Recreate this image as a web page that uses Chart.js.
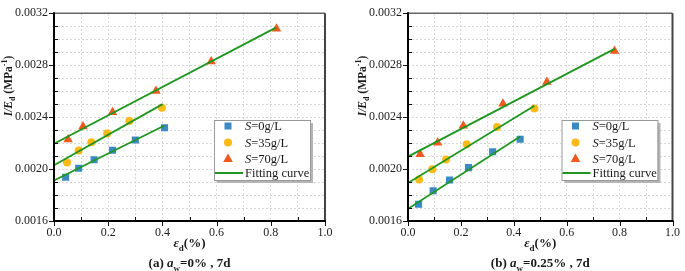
<!DOCTYPE html>
<html>
<head>
<meta charset="utf-8">
<script src="https://cdn.jsdelivr.net/npm/chart.js@4.4.1/dist/chart.umd.min.js"></script>
<style>
  html, body { margin: 0; padding: 0; background: #fff; }
  #wrap { position: relative; width: 685px; height: 271px; overflow: hidden; }
  #wrap canvas { position: absolute; top: 0; }
</style>
</head>
<body>
<div id="wrap">
  <canvas id="chartA" width="340" height="271" style="left:0"></canvas>
  <canvas id="chartB" width="331" height="271" style="left:354px"></canvas>
</div>
<script>
// panel (a) aw=0%, 7d  -- strain (%) and 1/Ed (MPa^-1)
const epsA0 = [0.043, 0.091, 0.148, 0.216, 0.300, 0.408];
const invA0 = [0.001937, 0.002006, 0.002071, 0.002145, 0.002224, 0.002318];
const epsA35 = [0.048, 0.091, 0.138, 0.196, 0.278, 0.398];
const invA35 = [0.002051, 0.002142, 0.002207, 0.002274, 0.002370, 0.002472];
const epsA70 = [0.052, 0.107, 0.216, 0.376, 0.580, 0.821];
const invA70 = [0.002227, 0.002328, 0.002437, 0.002601, 0.002828, 0.003081];
// fitting lines (start / end)
const fitA0x = [0, 0.408], fitA0y = [0.001912, 0.002335];
const fitA35x = [0, 0.401], fitA35y = [0.002029, 0.002500];
const fitA70x = [0, 0.819], fitA70y = [0.002195, 0.003089];

// panel (b) aw=0.25%, 7d
const epsB0 = [0.040, 0.095, 0.157, 0.229, 0.320, 0.424];
const invB0 = [0.001729, 0.001833, 0.001915, 0.002011, 0.002133, 0.002229];
const epsB35 = [0.042, 0.092, 0.144, 0.222, 0.337, 0.478];
const invB35 = [0.001920, 0.001999, 0.002073, 0.002190, 0.002323, 0.002467];
const epsB70 = [0.046, 0.112, 0.209, 0.359, 0.525, 0.781];
const invB70 = [0.002113, 0.002202, 0.002333, 0.002502, 0.002670, 0.002908];
const fitB0x = [0, 0.424], fitB0y = [0.001694, 0.002251];
const fitB35x = [0, 0.478], fitB35y = [0.001892, 0.002487];
const fitB70x = [0, 0.781], fitB70y = [0.002096, 0.002925];

const seriesNames = ["=0g/L", "=35g/L", "=70g/L"];
const fitName = "Fitting curve";
const xMin = 0, xMax = 1, xStep = 0.1;
const yMin = 0.0016, yMax = 0.0032, yStep = 0.0001;

const BLUE = "#3b8ac4", YELLOW = "#fdb914", ORANGE = "#f15a1f", GREEN = "#1f961f";
const FAM = '"Liberation Serif", "Times New Roman", serif';

function pts(xs, ys) {
  return xs.map((x, i) => ({ x: x, y: ys[i] }));
}

function scatterSet(xs, ys, color, style, r) {
  return {
    data: pts(xs, ys),
    showLine: false,
    pointStyle: style,
    pointRadius: r,
    pointBackgroundColor: color,
    pointBorderColor: color,
    pointBorderWidth: 0,
    order: 2
  };
}

function fitSet(xs, ys) {
  return {
    data: pts(xs, ys),
    showLine: true,
    borderColor: GREEN,
    borderWidth: 1.8,
    pointRadius: 0,
    fill: false,
    order: 0
  };
}

// texte avec indices / exposants
function drawRich(ctx, parts, x, y, size, weight, align) {
  const items = parts.map(p => {
    const s = (p.sub || p.sup) ? Math.round(size * 0.7) : size;
    const font = (p.it ? "italic " : "") + weight + " " + s + "px " + FAM;
    ctx.font = font;
    return { t: p.t, font: font, w: ctx.measureText(p.t).width,
             dy: p.sub ? size * 0.28 : (p.sup ? -size * 0.4 : 0) };
  });
  const total = items.reduce((a, b) => a + b.w, 0);
  let cx = align === "center" ? x - total / 2 : x;
  ctx.textAlign = "left";
  ctx.textBaseline = "alphabetic";
  items.forEach(it => {
    ctx.font = it.font;
    ctx.fillText(it.t, cx, y + it.dy);
    cx += it.w;
  });
}

const decor = {
  id: "decor",
  afterDraw(chart, args, opts) {
    const ctx = chart.ctx;
    const a = chart.chartArea;
    const xs = chart.scales.x, ys = chart.scales.y;
    ctx.save();
    ctx.strokeStyle = "#111";
    ctx.lineWidth = 1;

    // tick marks
    ys.ticks.forEach((t, i) => {
      const py = Math.round(ys.getPixelForValue(t.value)) + 0.5;
      const major = Math.round(t.value * 10000) % 4 === 0;
      ctx.beginPath();
      if (major) { ctx.moveTo(a.left - 5, py); ctx.lineTo(a.left, py); }
      else { ctx.moveTo(a.left, py); ctx.lineTo(a.left + 4, py); }
      ctx.stroke();
    });
    xs.ticks.forEach(t => {
      const px = Math.round(xs.getPixelForValue(t.value)) + 0.5;
      const major = Math.round(t.value * 10) % 2 === 0;
      ctx.beginPath();
      if (major) { ctx.moveTo(px, a.bottom); ctx.lineTo(px, a.bottom + 5); }
      else { ctx.moveTo(px, a.bottom); ctx.lineTo(px, a.bottom - 4); }
      ctx.stroke();
    });

    // frame
    ctx.strokeStyle = "#666";
    ctx.lineWidth = 1.5;
    ctx.beginPath();
    ctx.moveTo(a.left, a.top); ctx.lineTo(a.right, a.top);
    ctx.stroke();
    ctx.strokeStyle = "#444";
    ctx.lineWidth = 2;
    ctx.beginPath();
    ctx.moveTo(a.right, a.top); ctx.lineTo(a.right, a.bottom);
    ctx.stroke();
    ctx.strokeStyle = "#000";
    ctx.lineWidth = 2;
    ctx.beginPath();
    ctx.moveTo(a.left, a.top - 1); ctx.lineTo(a.left, a.bottom); ctx.lineTo(a.right + 1, a.bottom);
    ctx.stroke();

    // legend
    const bw = 96, bh = 60;
    const bx = a.right - 15 - bw, by = 120;
    ctx.fillStyle = "#b5b5b5";
    ctx.fillRect(bx + 3, by + 3, bw, bh);
    ctx.fillStyle = "#fff";
    ctx.fillRect(bx, by, bw, bh);
    ctx.strokeStyle = "#999";
    ctx.lineWidth = 1;
    ctx.strokeRect(bx + 0.5, by + 0.5, bw, bh);

    const rows = [by + 6, by + 22.5, by + 38.5, by + 53];
    const mx = bx + 14;
    ctx.fillStyle = BLUE;
    ctx.fillRect(mx - 3.5, rows[0] - 3.5, 7, 7);
    ctx.fillStyle = YELLOW;
    ctx.beginPath(); ctx.arc(mx, rows[1], 4, 0, Math.PI * 2); ctx.fill();
    ctx.fillStyle = ORANGE;
    ctx.beginPath();
    ctx.moveTo(mx, rows[2] - 5); ctx.lineTo(mx + 4.8, rows[2] + 3.5); ctx.lineTo(mx - 4.8, rows[2] + 3.5);
    ctx.closePath(); ctx.fill();
    ctx.strokeStyle = GREEN;
    ctx.lineWidth = 2;
    ctx.beginPath(); ctx.moveTo(bx + 1, rows[3]); ctx.lineTo(bx + 29, rows[3]); ctx.stroke();

    ctx.fillStyle = "#1a1a1a";
    seriesNames.forEach((n, i) => {
      drawRich(ctx, [{ t: "S", it: true }, { t: n }], bx + 31, rows[i] + 4, 12.5, "normal", "left");
    });
    drawRich(ctx, [{ t: fitName }], bx + 31, rows[3] + 4, 12.5, "normal", "left");

    // axis titles
    const cxm = (a.left + a.right) / 2;
    drawRich(ctx, [{ t: "\u03b5", it: true }, { t: "d", sub: true }, { t: "(%)" }], cxm, 247, 13, "bold", "center");
    drawRich(ctx, opts.caption, cxm, 267, 13, "bold", "center");

    ctx.save();
    ctx.translate(12, 86);
    ctx.rotate(-Math.PI / 2);
    drawRich(ctx, [{ t: "I/E", it: true }, { t: "d", sub: true }, { t: " (MPa" }, { t: "-1", sup: true }, { t: ")" }],
             0, 0, 11.5, "bold", "center");
    ctx.restore();

    ctx.restore();
  }
};

function makePanel(id, datasets, caption, padRight) {
  return new Chart(document.getElementById(id), {
    type: "scatter",
    data: { datasets: datasets },
    options: {
      responsive: false,
      animation: false,
      events: [],
      layout: { autoPadding: false, padding: { left: 0, right: padRight, top: 6, bottom: 0 } },
      plugins: {
        legend: { display: false },
        tooltip: { enabled: false },
        decor: { caption: caption }
      },
      scales: {
        x: {
          type: "linear", min: xMin, max: xMax,
          afterFit(s) { s.height = 50; },
          ticks: {
            stepSize: xStep, autoSkip: false, maxRotation: 0, padding: 5,
            color: "#222", font: { family: FAM, size: 12 },
            callback: v => (Math.round(v * 10) % 2 === 0 ? v.toFixed(1) : "")
          },
          grid: { color: "#d6d6d6", lineWidth: 1, drawTicks: false },
          border: { display: false, dash: [2, 2] }
        },
        y: {
          type: "linear", min: yMin, max: yMax,
          afterFit(s) { s.width = 54; },
          ticks: {
            stepSize: yStep, autoSkip: false, padding: 6,
            color: "#222", font: { family: FAM, size: 12 },
            callback: v => (Math.round(v * 10000) % 4 === 0 ? v.toFixed(4) : "")
          },
          grid: { color: "#d6d6d6", lineWidth: 1, drawTicks: false },
          border: { display: false, dash: [2, 2] }
        }
      }
    },
    plugins: [decor]
  });
}

makePanel("chartA", [
  fitSet(fitA0x, fitA0y), fitSet(fitA35x, fitA35y), fitSet(fitA70x, fitA70y),
  scatterSet(epsA0, invA0, BLUE, "rect", 5),
  scatterSet(epsA35, invA35, YELLOW, "circle", 4),
  scatterSet(epsA70, invA70, ORANGE, "triangle", 5.5)
], [{ t: "(a) " }, { t: "a", it: true }, { t: "w", sub: true }, { t: "=0% , 7d" }], 15);

makePanel("chartB", [
  fitSet(fitB0x, fitB0y), fitSet(fitB35x, fitB35y), fitSet(fitB70x, fitB70y),
  scatterSet(epsB0, invB0, BLUE, "rect", 5),
  scatterSet(epsB35, invB35, YELLOW, "circle", 4),
  scatterSet(epsB70, invB70, ORANGE, "triangle", 5.5)
], [{ t: "(b) " }, { t: "a", it: true }, { t: "w", sub: true }, { t: "=0.25% , 7d" }], 8);
</script>
</body>
</html>
